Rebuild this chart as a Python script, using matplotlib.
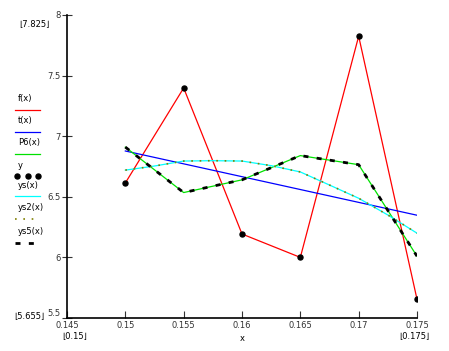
import numpy as np
import matplotlib.pyplot as plt
from matplotlib.lines import Line2D

# data
x = [0.15, 0.155, 0.16, 0.165, 0.17, 0.175]
y = [6.614, 7.398, 6.193, 6.0, 7.825, 5.655]
t = [6.878, 6.772, 6.666, 6.560, 6.454, 6.348]
p6 = [6.91, 6.535, 6.64, 6.84, 6.765, 6.01]
xs = [0.15, 0.1525, 0.155, 0.1575, 0.16, 0.1625, 0.165, 0.1675, 0.17, 0.1725, 0.175]
ys = [6.72, 6.754, 6.795, 6.798, 6.795, 6.757, 6.705, 6.597, 6.488, 6.35, 6.20]
xticks = [0.145, 0.15, 0.155, 0.16, 0.165, 0.17, 0.175]
xtick_labels = ['0.145', '0.15', '0.155', '0.16', '0.165', '0.17', '0.175']
yticks = [5.5, 6, 6.5, 7, 7.5, 8]
ytick_labels = ['5.5', '6', '6.5', '7', '7.5', '8']
legend_names = ['f(x)', 't(x)', 'P6(x)', 'y', 'ys(x)', 'ys2(x)', 'ys5(x)']

W, H = 449, 351
fig = plt.figure(figsize=(W / 100, H / 100), dpi=100)
ax = fig.add_axes([67 / W, 1 - 318 / H, 350 / W, 303 / H])

ax.plot(x, y, color='red', lw=0.9)
ax.plot([x[0], x[-1]], [t[0], t[-1]], color='blue', lw=0.9)
ax.plot(x, p6, color='#00e000', lw=0.9)
ax.plot(x, y, 'o', color='black', ms=3.6, ls='none')
ax.plot(xs, ys, color='cyan', lw=0.9)
ax.plot(xs, ys, color='#808000', lw=1.2, ls=(0, (1, 4)))
ax.plot(x, p6, color='black', lw=2, ls=(0, (1.8, 3)))

ax.set_xlim(0.145, 0.175)
ax.set_ylim(5.5, 8)
for s in ['top', 'right']:
    ax.spines[s].set_visible(False)
ax.spines['left'].set_linewidth(1.2)
ax.spines['bottom'].set_linewidth(1.2)
ax.set_xticks(xticks)
ax.set_xticklabels(xtick_labels)
ax.set_yticks(yticks)
ax.set_yticklabels(ytick_labels)
ax.tick_params(axis='x', direction='in', length=5, labelsize=6, pad=2, colors='#333333')
ax.tick_params(axis='y', direction='inout', length=7, labelsize=6, pad=1, colors='#333333')
ax.get_yticklabels()[0].set_va('bottom')
ax.set_xlabel('x', fontsize=6, labelpad=3)

def px(xp, yp):
    return xp / W, 1 - yp / H

fs = 6
fig.text(*px(19, 25), '⌊7.825⌋', fontsize=fs, va='center')
fig.text(*px(14, 316), '⌊5.655⌋', fontsize=fs, va='center')
fig.text(*px(62, 337), '⌊0.15⌋', fontsize=fs, va='center')
fig.text(*px(399, 337), '⌊0.175⌋', fontsize=fs, va='center')

# legend on the left
text_y = [98, 121, 143, 165, 186, 208, 231]
line_y = [110, 132, 154, 176, 196, 219, 243]
styles = [
    dict(color='red', lw=0.9),
    dict(color='blue', lw=0.9),
    dict(color='#00e000', lw=0.9),
    dict(color='black', ls='none', marker='o', ms=3.6),
    dict(color='cyan', lw=0.9),
    dict(color='#808000', lw=1.2, ls=(0, (1, 4))),
    dict(color='black', lw=2, ls=(0, (1.8, 3))),
]
for name, ty, ly, st in zip(legend_names, text_y, line_y, styles):
    fig.text(*px(18, ty), name, fontsize=fs, va='center')
    if st.get('marker'):
        xx = [17 / W, 27.5 / W, 38 / W]
        fig.add_artist(Line2D(xx, [1 - ly / H] * 3, transform=fig.transFigure, **st))
    else:
        fig.add_artist(Line2D([15 / W, 40 / W], [1 - ly / H] * 2, transform=fig.transFigure, **st))

fig.savefig('out.png', dpi=100)
